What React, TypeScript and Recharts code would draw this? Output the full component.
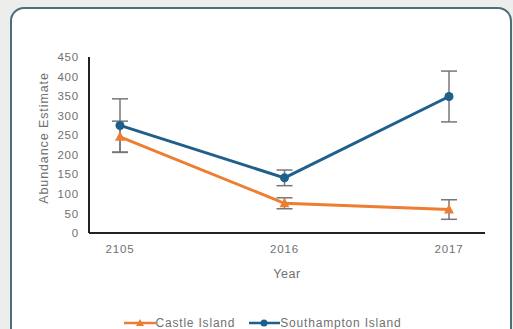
import { LineChart, Line, XAxis, YAxis, Legend, ErrorBar } from "recharts";

const years = ["2105", "2016", "2017"];
const castleIsland = [246, 76, 60];
const castleErr = [40, 14, 25];
const southamptonIsland = [275, 141, 349];
const southamptonErr = [68, 20, 65];
const yTicks = [0, 50, 100, 150, 200, 250, 300, 350, 400, 450];

const ORANGE = "#ED7D31";
const BLUE = "#1F5F8B";
const TEXT = "#707070";
const FONT = "'Liberation Sans', Arial, sans-serif";

const data = years.map((year, i) => ({
	year,
	castle: castleIsland[i],
	castleErr: castleErr[i],
	south: southamptonIsland[i],
	southErr: southamptonErr[i],
}));

const tickStyle = { fill: TEXT, fontSize: 11.5, fontFamily: FONT, letterSpacing: 0.8 };

const Triangle = (props: any) => {
	const { cx, cy } = props;
	if (cx == null || cy == null) return null;
	return (
		<path
			d={`M${cx},${cy - 5.5} L${cx + 5},${cy + 4} L${cx - 5},${cy + 4} Z`}
			fill={ORANGE}
		/>
	);
};

const Circle = (props: any) => {
	const { cx, cy } = props;
	if (cx == null || cy == null) return null;
	return <circle cx={cx} cy={cy} r={4.5} fill={BLUE} />;
};

const renderLegend = () => (
	<div
		style={{
			display: "flex",
			justifyContent: "center",
			gap: 14,
			fontFamily: FONT,
			fontSize: 12,
			letterSpacing: 0.8,
			color: TEXT,
			paddingLeft: 40,
		}}
	>
		<span style={{ display: "flex", alignItems: "center" }}>
			<svg width={32} height={10}>
				<line x1={0} y1={5} x2={32} y2={5} stroke={ORANGE} strokeWidth={2.5} />
				<path d="M16,1 L20,8 L12,8 Z" fill={ORANGE} />
			</svg>
			<span>Castle Island</span>
		</span>
		<span style={{ display: "flex", alignItems: "center" }}>
			<svg width={31} height={10}>
				<line x1={0} y1={5} x2={31} y2={5} stroke={BLUE} strokeWidth={2.5} />
				<circle cx={15} cy={5} r={3.5} fill={BLUE} />
			</svg>
			<span>Southampton Island</span>
		</span>
	</div>
);

export default function App() {
	return (
		<div
			style={{
				position: "absolute",
				left: 0,
				top: 0,
				width: 513,
				height: 329,
				overflow: "hidden",
				background: "#eceeee",
			}}
		>
			<div
				style={{
					position: "absolute",
					left: 10,
					top: 7,
					width: 498,
					height: 340,
					border: "2px solid #4f6d77",
					borderRadius: 14,
					background: "#fff",
				}}
			/>
			<div style={{ position: "absolute", left: 0, top: 0 }}>
				<LineChart
					width={513}
					height={329}
					data={data}
					margin={{ top: 57, right: 28, bottom: 0, left: 0 }}
				>
					<XAxis
						dataKey="year"
						padding={{ left: 31, right: 36 }}
						axisLine={{ stroke: "#222", strokeWidth: 2 }}
						tickLine={false}
						tickMargin={6}
						height={66}
						tick={tickStyle}
						label={{
							value: "Year",
							position: "insideTop",
							offset: 36,
							fill: TEXT,
							fontSize: 12.5,
							fontFamily: FONT,
							letterSpacing: 0.6,
						}}
					/>
					<YAxis
						domain={[0, 450]}
						ticks={yTicks}
						width={89}
						axisLine={{ stroke: "#222", strokeWidth: 2 }}
						tickLine={false}
						tickMargin={4}
						tick={tickStyle}
						label={{
							value: "Abundance Estimate",
							angle: -90,
							position: "center",
							dx: -1,
							dy: -7,
							fill: TEXT,
							fontSize: 12.5,
							fontFamily: FONT,
							letterSpacing: 0.9,
						}}
					/>
					<Legend
						verticalAlign="bottom"
						height={30}
						content={renderLegend}
						wrapperStyle={{ bottom: -17 }}
					/>
					<Line
						dataKey="castle"
						name="Castle Island"
						stroke={ORANGE}
						strokeWidth={3}
						dot={<Triangle />}
						activeDot={false}
						isAnimationActive={false}
					>
						<ErrorBar dataKey="castleErr" width={8} stroke="#777" strokeWidth={1.5} />
					</Line>
					<Line
						dataKey="south"
						name="Southampton Island"
						stroke={BLUE}
						strokeWidth={3}
						dot={<Circle />}
						activeDot={false}
						isAnimationActive={false}
					>
						<ErrorBar dataKey="southErr" width={8} stroke="#777" strokeWidth={1.5} />
					</Line>
				</LineChart>
			</div>
		</div>
	);
}
